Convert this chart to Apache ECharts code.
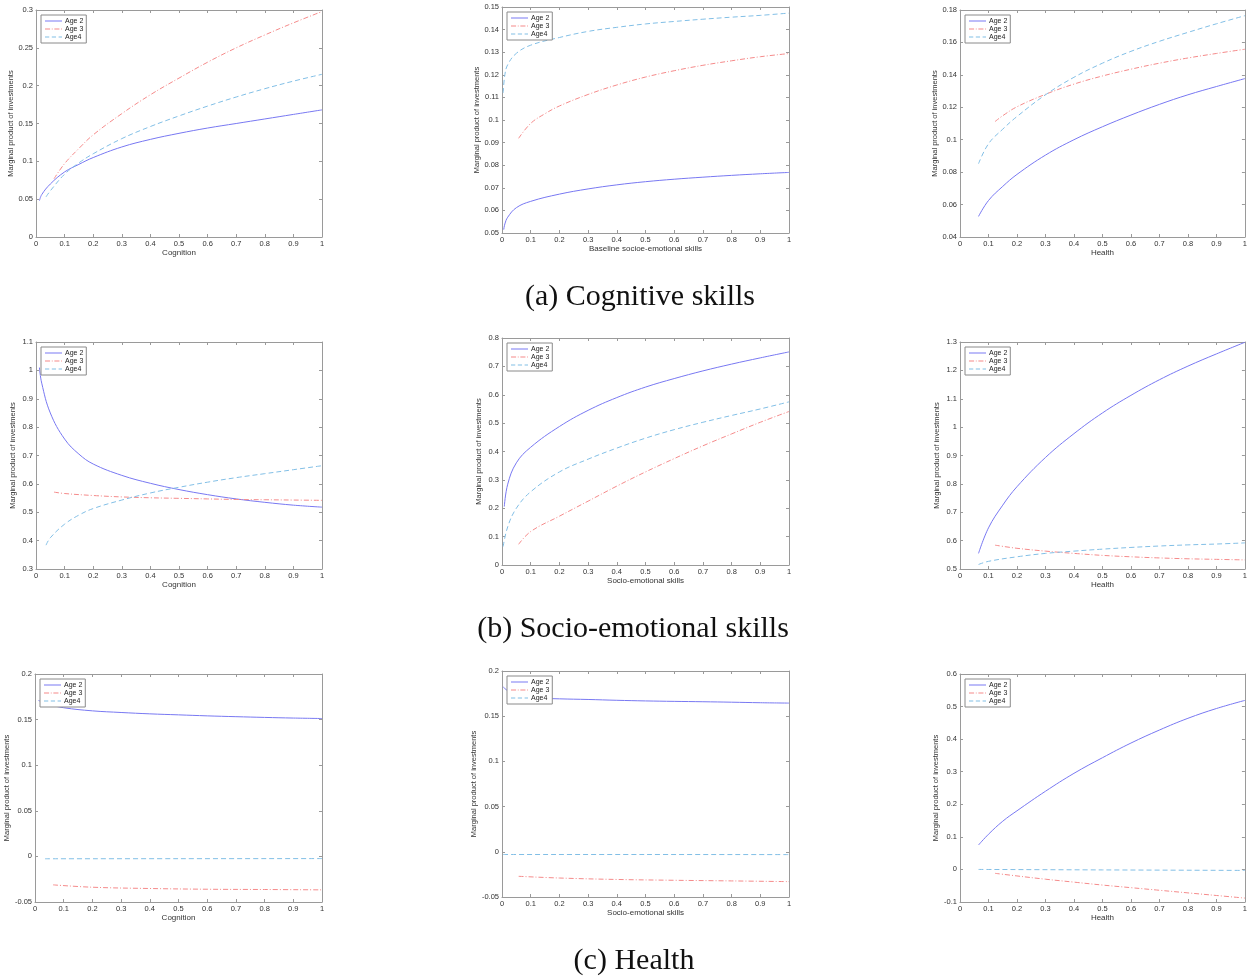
<!DOCTYPE html>
<html>
<head>
<meta charset="utf-8">
<script src="https://cdn.jsdelivr.net/npm/echarts@6/dist/echarts.min.js"></script>
<style>
  html, body { margin: 0; padding: 0; background: #fff; }
  #chart { width: 1250px; height: 977px; }
</style>
</head>
<body>
<div id="chart"></div>
<script>
// series names
const names = ['Age 2', 'Age 3', 'Age4'];

// (a) Cognitive skills
const a1Age2 = [[0.012,0.048],[0.02,0.056],[0.05,0.07],[0.1,0.086],[0.15,0.096],[0.2,0.105],[0.3,0.119],[0.4,0.129],[0.5,0.137],[0.6,0.144],[0.7,0.15],[0.8,0.156],[0.9,0.162],[1,0.168]];
const a1Age3 = [[0.063,0.077],[0.1,0.097],[0.15,0.117],[0.2,0.135],[0.3,0.163],[0.4,0.188],[0.5,0.21],[0.6,0.231],[0.7,0.25],[0.8,0.267],[0.9,0.283],[1,0.298]];
const a1Age4 = [[0.035,0.053],[0.05,0.061],[0.1,0.083],[0.15,0.098],[0.2,0.11],[0.3,0.13],[0.4,0.146],[0.5,0.16],[0.6,0.173],[0.7,0.185],[0.8,0.196],[0.9,0.206],[1,0.215]];

const a2Age2 = [[0.006,0.0515],[0.01,0.054],[0.02,0.057],[0.05,0.0612],[0.1,0.064],[0.2,0.0672],[0.3,0.0695],[0.4,0.0713],[0.5,0.0727],[0.6,0.0738],[0.7,0.0747],[0.8,0.0755],[0.9,0.0762],[1,0.0768]];
const a2Age3 = [[0.058,0.0919],[0.1,0.0985],[0.15,0.1028],[0.2,0.1062],[0.3,0.1113],[0.4,0.1155],[0.5,0.119],[0.6,0.1218],[0.7,0.1242],[0.8,0.1262],[0.9,0.128],[1,0.1294]];
const a2Age4 = [[0.004,0.112],[0.01,0.12],[0.02,0.1245],[0.05,0.1295],[0.1,0.1331],[0.2,0.1365],[0.3,0.1392],[0.4,0.141],[0.5,0.1425],[0.6,0.1436],[0.7,0.1446],[0.8,0.1455],[0.9,0.1463],[1,0.1473]];

const a3Age2 = [[0.065,0.0527],[0.1,0.0625],[0.15,0.0712],[0.2,0.0786],[0.3,0.0905],[0.4,0.1],[0.5,0.108],[0.6,0.1152],[0.7,0.1218],[0.8,0.1277],[0.9,0.1328],[1,0.1377]];
const a3Age3 = [[0.123,0.1112],[0.15,0.1148],[0.2,0.1203],[0.3,0.128],[0.4,0.1343],[0.5,0.1393],[0.6,0.1435],[0.7,0.1472],[0.8,0.1504],[0.9,0.1532],[1,0.1558]];
const a3Age4 = [[0.065,0.0852],[0.1,0.0975],[0.15,0.1065],[0.2,0.1143],[0.3,0.1277],[0.4,0.1385],[0.5,0.1472],[0.6,0.1545],[0.7,0.1607],[0.8,0.1662],[0.9,0.1715],[1,0.1765]];

// (b) Socio-emotional skills
const b1Age2 = [[0.012,1.01],[0.02,0.955],[0.05,0.85],[0.1,0.758],[0.15,0.705],[0.2,0.67],[0.3,0.63],[0.4,0.602],[0.5,0.58],[0.6,0.562],[0.7,0.547],[0.8,0.535],[0.9,0.525],[1,0.518]];
const b1Age3 = [[0.063,0.571],[0.1,0.566],[0.2,0.559],[0.3,0.554],[0.4,0.551],[0.5,0.549],[0.6,0.547],[0.7,0.545],[0.8,0.544],[0.9,0.543],[1,0.542]];
const b1Age4 = [[0.035,0.384],[0.05,0.41],[0.1,0.458],[0.15,0.49],[0.2,0.513],[0.3,0.543],[0.4,0.568],[0.5,0.588],[0.6,0.606],[0.7,0.622],[0.8,0.636],[0.9,0.65],[1,0.664]];

const b2Age2 = [[0.008,0.206],[0.02,0.285],[0.05,0.36],[0.1,0.415],[0.2,0.488],[0.3,0.545],[0.4,0.59],[0.5,0.627],[0.6,0.657],[0.7,0.684],[0.8,0.708],[0.9,0.73],[1,0.751]];
const b2Age3 = [[0.058,0.073],[0.1,0.118],[0.2,0.172],[0.3,0.225],[0.4,0.278],[0.5,0.328],[0.6,0.375],[0.7,0.42],[0.8,0.462],[0.9,0.503],[1,0.541]];
const b2Age4 = [[0.004,0.065],[0.02,0.135],[0.05,0.2],[0.1,0.258],[0.2,0.328],[0.3,0.373],[0.4,0.412],[0.5,0.447],[0.6,0.477],[0.7,0.503],[0.8,0.527],[0.9,0.55],[1,0.575]];

const b3Age2 = [[0.065,0.555],[0.1,0.645],[0.15,0.725],[0.2,0.79],[0.3,0.893],[0.4,0.977],[0.5,1.05],[0.6,1.112],[0.7,1.167],[0.8,1.215],[0.9,1.258],[1,1.299]];
const b3Age3 = [[0.123,0.584],[0.2,0.573],[0.3,0.563],[0.4,0.555],[0.5,0.548],[0.6,0.543],[0.7,0.539],[0.8,0.536],[0.9,0.534],[1,0.532]];
const b3Age4 = [[0.065,0.516],[0.1,0.527],[0.2,0.543],[0.3,0.555],[0.4,0.563],[0.5,0.57],[0.6,0.576],[0.7,0.581],[0.8,0.585],[0.9,0.588],[1,0.592]];

// (c) Health
const c1Age2 = [[0.012,0.171],[0.05,0.1666],[0.1,0.163],[0.2,0.1596],[0.3,0.1578],[0.4,0.1563],[0.5,0.1552],[0.6,0.1541],[0.7,0.1532],[0.8,0.1524],[0.9,0.1517],[1,0.1512]];
const c1Age3 = [[0.063,-0.0312],[0.2,-0.0338],[0.4,-0.0352],[0.6,-0.036],[0.8,-0.0363],[1,-0.0367]];
const c1Age4 = [[0.035,-0.0026],[0.5,-0.0025],[1,-0.0024]];

const c2Age2 = [[0.004,0.1824],[0.02,0.178],[0.05,0.172],[0.1,0.1703],[0.2,0.1692],[0.3,0.1685],[0.4,0.1676],[0.5,0.1669],[0.6,0.1664],[0.7,0.166],[0.8,0.1655],[0.9,0.1649],[1,0.1645]];
const c2Age3 = [[0.058,-0.0271],[0.2,-0.029],[0.4,-0.0306],[0.6,-0.0315],[0.8,-0.0322],[1,-0.033]];
const c2Age4 = [[0.004,-0.003],[0.5,-0.003],[1,-0.0031]];

const c3Age2 = [[0.065,0.075],[0.1,0.108],[0.15,0.148],[0.2,0.18],[0.3,0.24],[0.4,0.295],[0.5,0.343],[0.6,0.388],[0.7,0.428],[0.8,0.464],[0.9,0.494],[1,0.519]];
const c3Age3 = [[0.123,-0.012],[0.2,-0.02],[0.3,-0.03],[0.4,-0.039],[0.5,-0.048],[0.6,-0.056],[0.7,-0.064],[0.8,-0.072],[0.9,-0.08],[1,-0.088]];
const c3Age4 = [[0.065,0],[0.5,-0.0015],[1,-0.003]];

// x axis titles and y ranges [min, max, step]
const xNames = ['Cognition', 'Baseline socioe-emotional skills', 'Health',
                'Cognition', 'Socio-emotional skills', 'Health',
                'Cognition', 'Socio-emotional skills', 'Health'];
const yRanges = [[0, 0.3, 0.05], [0.05, 0.15, 0.01], [0.04, 0.18, 0.02],
                 [0.3, 1.1, 0.1], [0, 0.8, 0.1], [0.5, 1.3, 0.1],
                 [-0.05, 0.2, 0.05], [-0.05, 0.2, 0.05], [-0.1, 0.6, 0.1]];
const panelData = [[a1Age2, a1Age3, a1Age4], [a2Age2, a2Age3, a2Age4], [a3Age2, a3Age3, a3Age4],
                   [b1Age2, b1Age3, b1Age4], [b2Age2, b2Age3, b2Age4], [b3Age2, b3Age3, b3Age4],
                   [c1Age2, c1Age3, c1Age4], [c2Age2, c2Age3, c2Age4], [c3Age2, c3Age3, c3Age4]];
const captions = ['(a) Cognitive skills', '(b) Socio-emotional skills', '(c) Health'];

// layout: left, top, width, height of each plot box
const boxes = [[36,10,286,227], [502,7,287,226], [960,10,287,227],
               [36,342,286,227], [502,338,287,227], [960,342,287,227],
               [35,674,287,228], [502,671,287,226], [960,674,286,228]];
const captionPos = [[640, 297], [633, 629], [634, 961]];

const colors = ['#7878f2', '#f58a8a', '#82bfe6'];
const dashes = ['solid', [5, 2, 1, 2], [5, 3]];
// legend line samples: solid, dash-dot, dashed
const legendIcons = [
  'rect',
  'path://M0,0h6v1h-6zM8,0h1v1h-1zM11,0h6v1h-6zM19,0h1v1h-1z',
  'path://M0,0h5v1h-5zM8,0h5v1h-5zM16,0h4v1h-4z'
];
const axisColor = '#9a9a9a';
const sans = '"Liberation Sans", Arial, sans-serif';

const myChart = echarts.init(document.getElementById('chart'));

const grid = [], xAxis = [], yAxis = [], series = [], legend = [];
boxes.forEach((b, i) => {
  grid.push({ left: b[0], top: b[1], width: b[2], height: b[3], show: false });
  const tick = { inside: true, length: 3, lineStyle: { color: axisColor } };
  const line = { show: true, onZero: false, lineStyle: { color: axisColor } };
  // bottom and top x axes
  xAxis.push({
    gridIndex: i, type: 'value', min: 0, max: 1, interval: 0.1,
    name: xNames[i], nameLocation: 'middle', nameGap: 10,
    nameTextStyle: { fontSize: 8, color: '#333', fontFamily: sans },
    axisLine: line, axisTick: tick, splitLine: { show: false },
    axisLabel: { margin: 3, fontSize: 7.5, color: '#333', fontFamily: sans }
  });
  xAxis.push({
    gridIndex: i, type: 'value', position: 'top', min: 0, max: 1, interval: 0.1,
    axisLine: line, axisTick: tick, splitLine: { show: false }, axisLabel: { show: false }
  });
  const r = yRanges[i];
  yAxis.push({
    gridIndex: i, type: 'value', min: r[0], max: r[1], interval: r[2],
    name: 'Marginal product of investments', nameLocation: 'middle', nameGap: 19,
    nameTextStyle: { fontSize: 7.5, color: '#333', fontFamily: sans },
    axisLine: line, axisTick: tick, splitLine: { show: false },
    axisLabel: { margin: 3, fontSize: 7.5, color: '#333', fontFamily: sans }
  });
  yAxis.push({
    gridIndex: i, type: 'value', position: 'right', min: r[0], max: r[1], interval: r[2],
    axisLine: line, axisTick: tick, splitLine: { show: false }, axisLabel: { show: false }
  });
  panelData[i].forEach((d, k) => {
    series.push({
      type: 'line', name: names[k], xAxisIndex: 2 * i, yAxisIndex: 2 * i,
      data: d, symbol: 'none', smooth: 0.4,
      lineStyle: { color: colors[k], width: 1, type: dashes[k] },
      itemStyle: { color: colors[k] }
    });
  });
  legend.push({
    left: b[0] + 5, top: b[1] + 5, orient: 'vertical',
    data: names.map((n, k) => ({
      name: n, icon: legendIcons[k],
      itemStyle: { color: colors[k], borderWidth: 0 }
    })),
    symbolKeepAspect: false,
    itemWidth: 17, itemHeight: 1, itemGap: 0, padding: [2, 3, 2, 4],
    borderColor: '#8a8a8a', borderWidth: 1, backgroundColor: '#fff',
    textStyle: { fontSize: 7, lineHeight: 8, color: '#222', fontFamily: sans, padding: [0, 0, 0, -2] },
    selectedMode: false
  });
});

myChart.setOption({
  animation: false,
  grid: grid,
  xAxis: xAxis,
  yAxis: yAxis,
  legend: legend,
  series: series,
  graphic: captions.map((t, j) => ({
    type: 'text', x: captionPos[j][0], y: captionPos[j][1],
    style: { text: t, fontSize: 30, fontFamily: '"Liberation Serif", serif', fill: '#111', align: 'center', verticalAlign: 'middle' }
  }))
});
</script>
</body>
</html>
